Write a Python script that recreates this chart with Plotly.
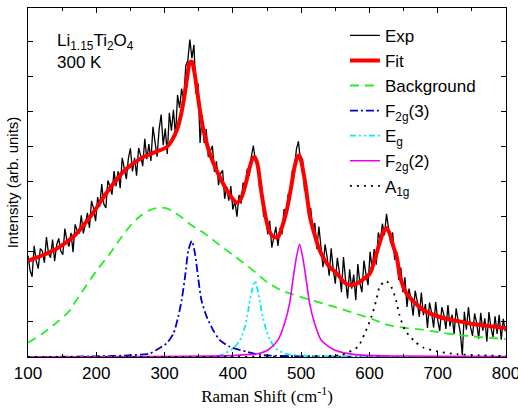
import plotly.graph_objects as go

# ---------------- data ----------------
exp_x = list(range(100, 800, 3))
exp_y = [
    2.89, 2.47, 2.29, 3.17, 2.74, 2.52, 3.09, 3.02, 2.69, 3.42,
    2.95, 2.83, 3.35, 2.73, 3.2, 3.38, 3.02, 2.92, 3.66, 3.31,
    3.15, 3.54, 2.99, 3.78, 3.6, 3.52, 4.04, 3.52, 3.79, 4.11,
    3.68, 4.45, 4.24, 3.87, 4.56, 4.29, 4.93, 4.36, 4.25, 5.03,
    4.86, 4.63, 5.3, 4.87, 5.29, 4.81, 5.68, 5.31, 5.07, 5.66,
    5.95, 5.29, 5.68, 5.17, 5.96, 5.75, 5.44, 6.22, 5.64, 6.07,
    5.59, 6.56, 6.04, 5.71, 6.49, 6.91, 6.04, 6.51, 5.79, 6.96,
    6.45, 7.05, 6.28, 7.47, 7.1, 7.65, 7.3, 8.3, 8.45, 9.05,
    8.52, 8.9, 7.5, 7.8, 6.1, 6.9, 6.1, 6.5, 5.7, 5.88,
    6.02, 5.28, 5.58, 4.9, 5.23, 5.32, 4.51, 4.86, 4.46, 4.87,
    4.2, 4.44, 4.0, 4.62, 4.37, 4.97, 4.78, 5.37, 5.16, 5.71,
    6.03, 5.6, 5.6, 4.85, 4.87, 4.0, 4.1, 3.5, 3.88, 3.12,
    3.47, 3.71, 3.17, 3.67, 3.5, 4.22, 4.05, 4.65, 4.6, 5.3,
    5.28, 5.92, 6.15, 5.6, 5.65, 4.75, 4.75, 4.05, 4.25, 3.6,
    3.82, 3.08, 3.72, 3.08, 2.56, 3.21, 2.86, 2.32, 3.1, 2.49,
    2.09, 2.83, 2.42, 1.85, 2.85, 2.2, 1.67, 2.5, 1.95, 2.35,
    1.62, 2.65, 2.1, 1.85, 2.75, 2.35, 2.05, 3.0, 2.5, 3.08,
    2.63, 3.55, 3.32, 3.8, 3.47, 4.08, 3.72, 3.25, 3.55, 2.77,
    3.0, 2.2, 2.55, 1.85, 2.27, 1.43, 1.95, 1.64, 1.18, 1.89,
    1.59, 1.14, 1.84, 1.19, 1.51, 0.83, 1.55, 1.27, 0.84, 1.57,
    1.05, 0.74, 1.42, 1.21, 0.8, 1.48, 0.87, 1.21, 0.65, 1.39,
    1.02, 0.71, 0.05, 1.29, 0.78, 1.42, 0.86, 0.6, 1.24, 0.98,
    0.52, 1.26, 0.75, 1.1, 0.44, 1.28, 0.83, 0.57, 1.16, 0.66,
    1.2, 0.49, 1.09, 0.73,
]

fit_x = [100, 125, 144, 169, 193, 218, 242, 266, 286, 303, 310, 318, 324, 330, 334,
         337, 340, 343, 347, 352, 357, 366, 376, 391, 400, 406, 412, 418, 424, 429,
         432, 436, 442, 449, 454, 460, 466, 472, 479, 485, 490, 494, 497, 500, 503,
         506, 513, 520, 527, 540, 552, 565, 576, 590, 601, 608, 615, 620, 625, 630,
         635, 640, 645, 654, 667, 679, 703, 728, 752, 776, 800]
fit_y = [2.74, 2.93, 3.11, 3.48, 4.05, 4.76, 5.33, 5.67, 5.84, 5.98, 6.15, 6.47, 6.9,
         7.55, 8.1, 8.4, 8.42, 8.2, 7.69, 7.0, 6.47, 5.81, 5.33, 4.76, 4.5, 4.40, 4.52,
         4.88, 5.36, 5.66, 5.70, 5.5, 4.67, 3.90, 3.56, 3.42, 3.42, 3.7, 4.19, 4.8,
         5.38, 5.68, 5.75, 5.6, 5.3, 4.96, 3.99, 3.47, 3.05, 2.6, 2.39, 2.1, 2.05, 2.2,
         2.39, 2.8, 3.25, 3.55, 3.68, 3.5, 3.15, 2.85, 2.28, 1.82, 1.54, 1.34, 1.14,
         1.03, 0.94, 0.88, 0.83]

bg_x = [100, 120, 140, 160, 170, 180, 200, 220, 240, 260, 280, 300, 320, 340, 360,
        380, 400, 425, 450, 470, 500, 550, 600, 630, 680, 730, 800]
bg_y = [0.41, 0.65, 0.95, 1.3, 1.6, 1.88, 2.45, 2.95, 3.5, 3.95, 4.2, 4.25, 4.05,
        3.75, 3.5, 3.2, 2.91, 2.54, 2.14, 1.91, 1.71, 1.42, 1.11, 0.9, 0.77, 0.63, 0.51]

f2g3_x = [100, 200, 250, 278, 288, 303, 313, 320, 325, 330, 335, 340, 344.5, 349,
          354, 361.6, 371, 381, 396, 420, 440, 500, 800]
f2g3_y = [0.0, 0.02, 0.05, 0.10, 0.2, 0.39, 0.67, 1.15, 1.62, 2.29, 3.05, 3.31, 2.95,
          2.29, 1.62, 1.15, 0.77, 0.48, 0.29, 0.15, 0.06, 0.02, 0.0]

eg_x = [100, 370, 383.5, 400.6, 410.4, 417.7, 422.6, 427.5, 432.4, 437, 442, 447,
        454, 464, 480, 500, 800]
eg_y = [0.0, 0.02, 0.06, 0.25, 0.48, 0.86, 1.34, 1.86, 2.17, 1.85, 1.3, 0.9, 0.5,
        0.22, 0.08, 0.04, 0.0]

f2g2_x = [100, 400, 420, 436.7, 451.4, 466, 475.8, 483.1, 487.9, 492.8, 497.7, 502.6,
          507.5, 512.4, 519.7, 529.4, 549, 583, 632, 800]
f2g2_y = [0.0, 0.04, 0.07, 0.09, 0.2, 0.48, 0.96, 1.53, 2.19, 2.81, 3.21, 2.81, 2.19,
          1.53, 0.96, 0.48, 0.2, 0.06, 0.03, 0.01]

a1g_x = [100, 540, 559, 583, 593, 603, 610, 615, 624, 632, 639, 644, 652, 666, 679,
         701, 728, 760, 800]
a1g_y = [0.0, 0.03, 0.06, 0.29, 0.67, 1.15, 1.62, 2.0, 2.17, 2.0, 1.62, 1.2, 0.77,
         0.45, 0.27, 0.15, 0.08, 0.05, 0.03]

x_ticks = [100, 200, 300, 400, 500, 600, 700, 800]

# ---------------- figure ----------------
FONT = "Liberation Sans, Arial, sans-serif"
fig = go.Figure()

fig.add_trace(go.Scatter(x=exp_x, y=exp_y, mode="lines", name="Exp",
                         line=dict(color="black", width=1.3)))
fig.add_trace(go.Scatter(x=fit_x, y=fit_y, mode="lines", name="Fit",
                         line=dict(color="#ff0000", width=4, shape="spline", smoothing=0.8)))
fig.add_trace(go.Scatter(x=bg_x, y=bg_y, mode="lines", name="Background",
                         line=dict(color="#22ee22", width=1.8, dash="9px,6px", shape="spline")))
fig.add_trace(go.Scatter(x=f2g3_x, y=f2g3_y, mode="lines", name="F<sub>2g</sub>(3)",
                         line=dict(color="#0000cc", width=1.8, dash="8px,3px,2px,3px",
                                   shape="spline", smoothing=0.7)))
fig.add_trace(go.Scatter(x=eg_x, y=eg_y, mode="lines", name="E<sub>g</sub>",
                         line=dict(color="#00eeee", width=1.8, dash="6px,3px,2px,3px,2px,3px",
                                   shape="spline", smoothing=0.7)))
fig.add_trace(go.Scatter(x=f2g2_x, y=f2g2_y, mode="lines", name="F<sub>2g</sub>(2)",
                         line=dict(color="#ee00ee", width=1.6, shape="spline", smoothing=0.7)))
fig.add_trace(go.Scatter(x=a1g_x, y=a1g_y, mode="lines", name="A<sub>1g</sub>",
                         line=dict(color="black", width=1.8, dash="2px,5px",
                                   shape="spline", smoothing=0.7)))

fig.update_layout(
    width=518, height=411,
    margin=dict(l=28, r=12, t=8, b=54, autoexpand=False),
    paper_bgcolor="white", plot_bgcolor="white",
    font=dict(family=FONT, size=17, color="black"),
    showlegend=True,
    legend=dict(x=0.663, y=0.972, xanchor="left", yanchor="top",
                bgcolor="rgba(0,0,0,0)", borderwidth=0,
                font=dict(family=FONT, size=17), tracegroupgap=0,
                itemwidth=30),
    annotations=[
        dict(text="Li<sub>1.15</sub>Ti<sub>2</sub>O<sub>4</sub>", xref="paper", yref="paper",
             x=(55 - 28) / 478, y=(357 - 42) / 349, xanchor="left", yanchor="middle",
             showarrow=False, font=dict(family=FONT, size=17)),
        dict(text="300 K", xref="paper", yref="paper",
             x=(55 - 28) / 478, y=(357 - 62) / 349, xanchor="left", yanchor="middle",
             showarrow=False, font=dict(family=FONT, size=17)),
    ],
)

fig.update_xaxes(
    range=[100, 800], tickvals=x_ticks, ticks="inside", ticklen=5, tickwidth=1,
    tickcolor="black", showline=True, linecolor="black", linewidth=1.3, mirror="ticks",
    showgrid=False, zeroline=False, ticklabeloverflow="allow", automargin=False,
    tickfont=dict(family=FONT, size=17),
    minor=dict(dtick=50, tick0=100, ticks="inside", ticklen=3, tickcolor="black", showgrid=False),
    title=dict(text="Raman Shift (cm<sup>-1</sup>)",
               font=dict(family="Liberation Serif, Times New Roman, serif", size=17),
               standoff=8),
)
fig.update_yaxes(
    range=[0, 9.95], dtick=1, tick0=0, ticks="inside", ticklen=5, tickwidth=1,
    tickcolor="black", showticklabels=False, showline=True, linecolor="black",
    linewidth=1.3, mirror="ticks", showgrid=False, zeroline=False, automargin=False,
    title=dict(text="Intensity (arb. units)", font=dict(family=FONT, size=15), standoff=4),
)

fig.write_html("out.html")
